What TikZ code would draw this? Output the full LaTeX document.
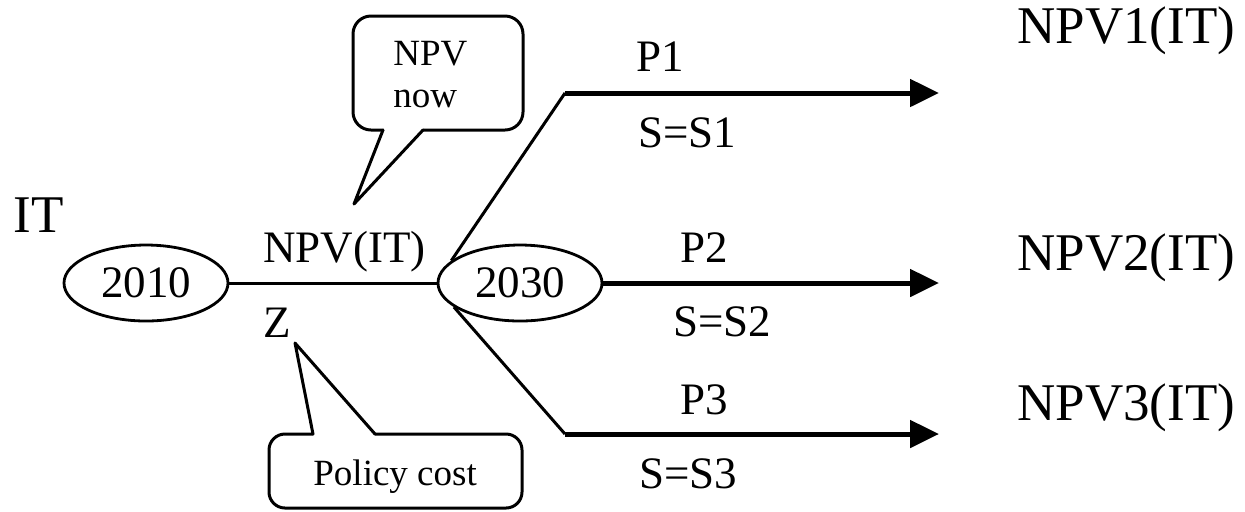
\documentclass[tikz,border=0pt]{standalone}
\usepackage{fontspec}
\setmainfont{Liberation Serif}
\usetikzlibrary{shapes.geometric,arrows.meta}

\tikzset{
  thinline/.style={line width=1.5pt},
  thickline/.style={line width=2.5pt, -{Triangle[length=14.5pt,width=13.5pt]}},
  yearnode/.style={ellipse, draw, line width=1.4pt, minimum width=82pt, minimum height=38pt, inner sep=0pt,
                   font=\fontsize{22.5}{27}\selectfont},
  midlabel/.style={inner sep=0pt, font=\fontsize{22.5}{27}\selectfont},
  biglabel/.style={inner sep=0pt, font=\fontsize{26.5}{31}\selectfont},
  bubbletext/.style={inner sep=0pt, font=\fontsize{18.5}{20}\selectfont},
  bubble/.style={line width=1.5pt, line cap=round, line join=round}
}

\begin{document}
\begin{tikzpicture}[x=0.5pt, y=-0.5pt]
  \useasboundingbox (0,0) rectangle (1245,511);

  % time points
  \node[yearnode] (y2010) at (146,283) {2010};
  \node[yearnode] (y2030) at (520,283) {2030};

  % bend points of the three scenario branches
  \coordinate (b1) at (565,93);
  \coordinate (b3) at (565,434);
  \coordinate (e1) at (939,93);
  \coordinate (e2) at (939,283);
  \coordinate (e3) at (939,434);

  % connectors
  \draw[thinline] (y2010) -- (y2030);
  \draw[thinline] (y2030.162) -- (b1);
  \draw[thinline] (y2030.200) -- (b3);
  \draw[thickline] (b1) -- (e1);
  \draw[thickline] (y2030) -- (e2);
  \draw[thickline] (b3) -- (e3);

  % labels
  \node[biglabel, anchor=base west] (it) at (13,232) {IT};
  \node[midlabel, anchor=base west] (npvit) at (263,262) {NPV(IT)};
  \node[midlabel, anchor=base west] (z) at (263,337) {Z};

  \node[midlabel, anchor=base] (p1) at (660,71) {P1};
  \node[midlabel, anchor=base] (s1) at (687,147) {S=S1};
  \node[midlabel, anchor=base] (p2) at (704,262) {P2};
  \node[midlabel, anchor=base] (s2) at (722,336) {S=S2};
  \node[midlabel, anchor=base] (p3) at (704,414) {P3};
  \node[midlabel, anchor=base] (s3) at (688,488) {S=S3};

  \node[biglabel, anchor=base west] (n1) at (1017,43) {NPV1(IT)};
  \node[biglabel, anchor=base west] (n2) at (1017,270) {NPV2(IT)};
  \node[biglabel, anchor=base west] (n3) at (1017,420) {NPV3(IT)};

  % callout "NPV now"
  \draw[bubble, rounded corners=9pt] (423,130) -- (523,130) -- (523,16) -- (353,16) -- (353,130) -- (383,130);
  \draw[bubble] (383,130) -- (354,204) -- (423,130);
  \node[bubbletext, anchor=base west, align=left] (npvnow) at (393,107) {NPV\\[1pt]now};

  % callout "Policy cost"
  \draw[bubble, rounded corners=8pt] (375,434) -- (522,434) -- (522,508) -- (269,508) -- (269,434) -- (313,434);
  \draw[bubble] (313,434) -- (295,343) -- (375,434);
  \node[bubbletext, anchor=base west] (cost) at (313,485) {Policy cost};
\end{tikzpicture}
\end{document}
